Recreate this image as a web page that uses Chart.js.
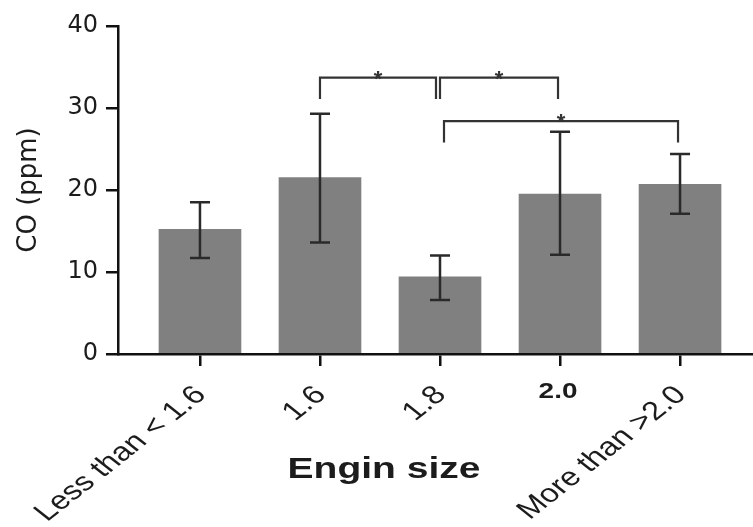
<!DOCTYPE html>
<html lang="en">
<head>
    <meta charset="UTF-8">
    <title>CO (ppm) by engine size</title>
    <script src="https://cdn.jsdelivr.net/npm/chart.js@4.4.1/dist/chart.umd.min.js"></script>
    <style>
        html, body {
            margin: 0;
            padding: 0;
            background: #ffffff;
        }
        #wrap {
            width: 753px;
            height: 527px;
        }
    </style>
</head>
<body>
    <div id="wrap">
        <canvas id="coChart" width="753" height="527"></canvas>
    </div>

    <script>
        // Data
        var categories = ['Less than < 1.6', '1.6', '1.8', '2.0', 'More than >2.0'];
        var coMean = [15.2, 21.5, 9.4, 19.5, 20.7];
        var coLow = [11.7, 13.6, 6.6, 12.1, 17.1];
        var coHigh = [18.5, 29.3, 12.0, 27.1, 24.4];
        var yTicks = [0, 10, 20, 30, 40];

        // Significance brackets: from category, to category, height (ppm)
        var sigFrom = [1, 2, 2];
        var sigTo = [2, 3, 4];
        var sigLevel = [33.7, 33.7, 28.4];
        var sigMark = ['*', '*', '*'];

        // x range leaves the gap between the y axis and the first bar
        var xMin = -0.683;
        var xMax = 4.608;

        var STRETCH = 1.27;   // the original figure is stretched sideways
        var INK = '#1c1c1c';

        // Error bars (mean with range)
        var errorBars = {
            id: 'errorBars',
            afterDatasetsDraw: function(chart) {
                var ctx = chart.ctx, x = chart.scales.x, y = chart.scales.y;
                ctx.save();
                ctx.strokeStyle = '#2a2a2a';
                ctx.lineWidth = 2.5;
                for (var i = 0; i < coMean.length; i++) {
                    var px = x.getPixelForValue(i);
                    var top = y.getPixelForValue(coHigh[i]);
                    var bot = y.getPixelForValue(coLow[i]);
                    ctx.beginPath();
                    ctx.moveTo(px, top); ctx.lineTo(px, bot);
                    ctx.moveTo(px - 10, top); ctx.lineTo(px + 10, top);
                    ctx.moveTo(px - 10, bot); ctx.lineTo(px + 10, bot);
                    ctx.stroke();
                }
                ctx.restore();
            }
        };

        // Brackets with asterisks
        var nudgeFrom = [0, 0, 4];
        var nudgeTo = [-4, -2, -2];
        var brackets = {
            id: 'brackets',
            afterDatasetsDraw: function(chart) {
                var ctx = chart.ctx, x = chart.scales.x, y = chart.scales.y;
                ctx.save();
                ctx.strokeStyle = '#333333';
                ctx.fillStyle = '#333333';
                ctx.lineWidth = 2.2;
                ctx.font = 'bold 22px "Liberation Sans", Arial, sans-serif';
                ctx.textAlign = 'center';
                ctx.textBaseline = 'alphabetic';
                for (var i = 0; i < sigFrom.length; i++) {
                    var x1 = x.getPixelForValue(sigFrom[i]) + nudgeFrom[i];
                    var x2 = x.getPixelForValue(sigTo[i]) + nudgeTo[i];
                    var yl = y.getPixelForValue(sigLevel[i]);
                    var yb = y.getPixelForValue(sigLevel[i] - 2.6);
                    ctx.beginPath();
                    ctx.moveTo(x1, yb);
                    ctx.lineTo(x1, yl);
                    ctx.lineTo(x2, yl);
                    ctx.lineTo(x2, yb);
                    ctx.stroke();
                    ctx.fillText(sigMark[i], (x1 + x2) / 2, yl + 8);
                }
                ctx.restore();
            }
        };

        // Category labels and x title (one label is printed flat and bold)
        var xLabels = {
            id: 'xLabels',
            afterDraw: function(chart) {
                var ctx = chart.ctx, x = chart.scales.x;
                var base = chart.chartArea.bottom;
                ctx.save();
                ctx.fillStyle = INK;
                categories.forEach(function(label, i) {
                    var px = x.getPixelForValue(i);
                    ctx.save();
                    if (label === '2.0') {
                        ctx.font = 'bold 22px "Liberation Sans", Arial, sans-serif';
                        ctx.translate(px - 2, base + 44);
                        ctx.scale(STRETCH, 1);
                        ctx.textAlign = 'center';
                        ctx.textBaseline = 'alphabetic';
                        ctx.fillText(label, 0, 0);
                    } else {
                        ctx.font = '26px "Liberation Sans", Arial, sans-serif';
                        ctx.translate(px + 1, base + 37);
                        ctx.scale(STRETCH, 1);
                        ctx.rotate(-Math.PI / 4);
                        ctx.textAlign = 'right';
                        ctx.textBaseline = 'middle';
                        ctx.fillText(label, 0, 0);
                    }
                    ctx.restore();
                });

                ctx.font = 'bold 30px "Liberation Sans", Arial, sans-serif';
                ctx.translate(x.getPixelForValue(1.5) + 4, base + 124);
                ctx.scale(1.3, 1);
                ctx.textAlign = 'center';
                ctx.textBaseline = 'alphabetic';
                ctx.fillText('Engin size', 0, 0);
                ctx.restore();
            }
        };

        Chart.defaults.font.family = '"DejaVu Sans", sans-serif';
        Chart.defaults.color = INK;

        var ctx = document.getElementById('coChart').getContext('2d');
        var coChart = new Chart(ctx, {
            type: 'bar',
            data: {
                datasets: [{
                    label: 'CO (ppm)',
                    data: categories.map(function(c, i) { return { x: i, y: coMean[i] }; }),
                    backgroundColor: '#808080',
                    borderWidth: 0,
                    barThickness: 82
                }]
            },
            options: {
                responsive: false,
                animation: false,
                devicePixelRatio: 1,
                layout: {
                    padding: { top: 26, right: 0, bottom: 0, left: 0 }
                },
                plugins: {
                    legend: { display: false },
                    tooltip: { enabled: false }
                },
                scales: {
                    x: {
                        type: 'linear',
                        offset: false,
                        min: xMin,
                        max: xMax,
                        afterBuildTicks: function(scale) {
                            scale.ticks = categories.map(function(c, i) { return { value: i }; });
                        },
                        afterFit: function(scale) { scale.height = 173; },
                        ticks: { display: false },
                        grid: {
                            offset: false,
                            drawOnChartArea: false,
                            drawTicks: true,
                            tickLength: 12,
                            color: '#111111',
                            lineWidth: 2.5
                        },
                        border: { display: true, color: '#111111', width: 2.5 }
                    },
                    y: {
                        min: 0,
                        max: 40,
                        afterBuildTicks: function(scale) {
                            scale.ticks = yTicks.map(function(v) { return { value: v }; });
                        },
                        afterFit: function(scale) { scale.width = 118; },
                        ticks: {
                            padding: 8,
                            color: INK,
                            font: { size: 24 }
                        },
                        grid: {
                            drawOnChartArea: false,
                            drawTicks: true,
                            tickLength: 12,
                            color: '#111111',
                            lineWidth: 2.5
                        },
                        border: { display: true, color: '#111111', width: 2.5 },
                        title: {
                            display: true,
                            text: 'CO (ppm)',
                            color: INK,
                            font: { size: 26 },
                            padding: { top: 14, bottom: 0 }
                        }
                    }
                }
            },
            plugins: [errorBars, brackets, xLabels]
        });
    </script>
</body>
</html>
